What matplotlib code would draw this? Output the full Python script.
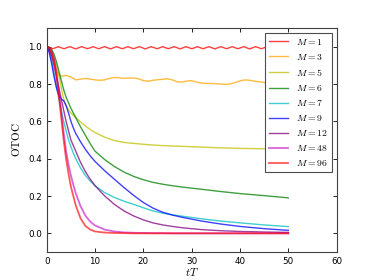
import matplotlib
matplotlib.use("Agg")
import matplotlib.pyplot as plt
import numpy as np

plt.rcParams['mathtext.fontset'] = 'cm'
plt.rcParams['xtick.direction'] = 'in'
plt.rcParams['ytick.direction'] = 'in'

# time grids
t_wiggle = np.arange(0, 50.01, 0.6)
t_orange = [0, 0.5, 1, 1.5, 2, 2.5, 3, 4, 5, 6, 7, 8, 9, 10, 11, 12, 13, 14, 15, 16,
            17, 18, 19, 20, 21, 22, 23, 24, 25, 26, 27, 28, 29, 30, 31, 32, 33, 34,
            35, 36, 37, 38, 39, 40, 41, 42, 43, 44, 45, 46, 47, 48, 49, 50]
t_s = [0, 0.5, 1, 1.5, 2, 2.5, 3, 3.5, 4, 4.5, 5, 5.5, 6, 7, 8, 9, 10, 12, 14, 16,
       18, 20, 22, 24, 26, 28, 32, 36, 40, 45, 50]

# OTOC values
otoc_M1 = [1.0, 0.994, 0.989, 0.994, 1.0, 0.994, 0.989, 0.995, 1.0, 0.994, 0.988, 0.994,
           1.0, 0.995, 0.989, 0.994, 1.0, 0.994, 0.989, 0.995, 1.0, 0.994, 0.988, 0.994,
           1.0, 0.995, 0.989, 0.994, 1.0, 0.994, 0.989, 0.995, 1.0, 0.994, 0.988, 0.994,
           1.0, 0.995, 0.989, 0.994, 1.0, 0.994, 0.989, 0.995, 1.0, 0.994, 0.988, 0.994,
           1.0, 0.995, 0.989, 0.994, 1.0, 0.994, 0.989, 0.995, 1.0, 0.994, 0.988, 0.994,
           1.0, 0.995, 0.989, 0.994, 1.0, 0.994, 0.989, 0.995, 1.0, 0.994, 0.988, 0.994,
           1.0, 0.995, 0.989, 0.994, 1.0, 0.994, 0.989, 0.995, 1.0, 0.994, 0.988, 0.994]
otoc_M3 = [1.0, 0.99, 0.96, 0.92, 0.87, 0.845, 0.842, 0.846, 0.838, 0.822, 0.826, 0.83,
           0.826, 0.822, 0.82, 0.822, 0.83, 0.835, 0.833, 0.83, 0.832, 0.832, 0.828,
           0.818, 0.815, 0.82, 0.823, 0.825, 0.828, 0.822, 0.812, 0.81, 0.816, 0.818,
           0.81, 0.805, 0.803, 0.803, 0.802, 0.8, 0.798, 0.8, 0.808, 0.817, 0.822, 0.82,
           0.815, 0.812, 0.808, 0.805, 0.81, 0.815, 0.81, 0.805]
otoc_M5 = [1.0, 0.995, 0.975, 0.94, 0.9, 0.85, 0.78, 0.72, 0.685, 0.662, 0.645, 0.632,
           0.62, 0.597, 0.575, 0.556, 0.54, 0.515, 0.497, 0.487, 0.482, 0.477, 0.473,
           0.47, 0.468, 0.466, 0.462, 0.458, 0.455, 0.453, 0.452]
otoc_M6 = [1.0, 0.997, 0.985, 0.96, 0.92, 0.87, 0.82, 0.77, 0.73, 0.70, 0.67, 0.645,
           0.62, 0.57, 0.525, 0.48, 0.44, 0.395, 0.358, 0.328, 0.305, 0.287, 0.273,
           0.263, 0.255, 0.248, 0.236, 0.224, 0.213, 0.202, 0.19]
otoc_M7 = [1.0, 0.98, 0.93, 0.86, 0.79, 0.72, 0.66, 0.6, 0.55, 0.5, 0.465, 0.43, 0.4,
           0.35, 0.31, 0.28, 0.255, 0.218, 0.192, 0.172, 0.155, 0.137, 0.12, 0.108,
           0.099, 0.092, 0.078, 0.066, 0.056, 0.045, 0.036]
otoc_M9 = [1.0, 0.97, 0.91, 0.84, 0.78, 0.74, 0.72, 0.71, 0.685, 0.645, 0.6, 0.565,
           0.535, 0.49, 0.45, 0.415, 0.385, 0.335, 0.29, 0.245, 0.203, 0.165, 0.135,
           0.113, 0.098, 0.086, 0.066, 0.05, 0.037, 0.025, 0.016]
otoc_M12 = [1.0, 0.985, 0.95, 0.9, 0.84, 0.78, 0.72, 0.66, 0.6, 0.55, 0.5, 0.47, 0.44,
            0.38, 0.33, 0.29, 0.255, 0.2, 0.155, 0.12, 0.093, 0.072, 0.056, 0.045,
            0.037, 0.03, 0.02, 0.014, 0.01, 0.007, 0.005]
otoc_M48 = [1.0, 0.995, 0.975, 0.935, 0.86, 0.76, 0.65, 0.54, 0.44, 0.37, 0.31, 0.26,
            0.215, 0.145, 0.095, 0.063, 0.042, 0.02, 0.01, 0.005, 0.003, 0.002, 0.001,
            0.001, 0.0, 0.0, 0.0, 0.0, 0.0, 0.0, 0.0]
otoc_M96 = [1.0, 0.995, 0.97, 0.925, 0.85, 0.74, 0.62, 0.5, 0.4, 0.32, 0.25, 0.2,
            0.15, 0.08, 0.04, 0.02, 0.01, 0.004, 0.002, 0.001, 0.0, 0.0, 0.0, 0.0,
            0.0, 0.0, 0.0, 0.0, 0.0, 0.0, 0.0]

fig = plt.figure(figsize=(3.74, 2.8), dpi=100)
ax = fig.add_axes([0.125, 0.1, 0.775, 0.8])

ax.plot(t_wiggle, otoc_M1, color='r', alpha=0.75, lw=1.0, label=r'$M=1$')
ax.plot(t_orange, otoc_M3, color='orange', alpha=0.75, lw=1.0, label=r'$M=3$')
ax.plot(t_s, otoc_M5, color='y', alpha=0.75, lw=1.0, label=r'$M=5$')
ax.plot(t_s, otoc_M6, color='g', alpha=0.75, lw=1.0, label=r'$M=6$')
ax.plot(t_s, otoc_M7, color='c', alpha=0.75, lw=1.0, label=r'$M=7$')
ax.plot(t_s, otoc_M9, color='b', alpha=0.75, lw=1.0, label=r'$M=9$')
ax.plot(t_s, otoc_M12, color='purple', alpha=0.75, lw=1.0, label=r'$M=12$')
ax.plot(t_s, otoc_M48, color='m', alpha=0.6, lw=1.3, label=r'$M=48$')
ax.plot(t_s, otoc_M96, color='r', alpha=0.65, lw=1.3, label=r'$M=96$')

ax.set_xlim(0, 60)
ax.set_ylim(-0.1, 1.1)
ax.set_xticks([0, 10, 20, 30, 40, 50, 60])
ax.set_yticks([0.0, 0.2, 0.4, 0.6, 0.8, 1.0])
ax.tick_params(labelsize=6.3, top=True, right=True, length=3, width=0.6)
for s in ax.spines.values():
    s.set_linewidth(0.8)
    s.set_color('0.25')

ax.set_xlabel(r'$tT$', fontsize=8, labelpad=0)
ax.set_ylabel(r'$\mathrm{OTOC}$', fontsize=8, labelpad=4)

leg = ax.legend(loc='upper right', fontsize=7, fancybox=False, handlelength=2.0,
                labelspacing=0.52, borderaxespad=0.5, framealpha=1)
leg.get_frame().set_edgecolor('0.3')
leg.get_frame().set_linewidth(0.8)

fig.savefig('out.png', dpi=100, facecolor='white')
